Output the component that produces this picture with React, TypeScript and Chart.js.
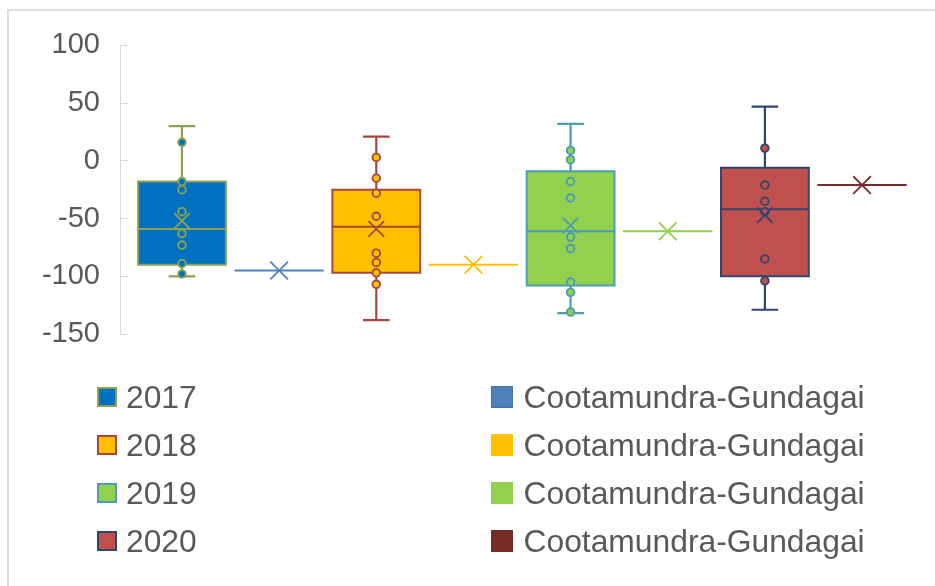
import React, { useEffect, useRef } from 'react';
import { Chart, registerables } from 'chart.js';

Chart.register(...registerables);

// ---------------- data ----------------
const years = ['2017', '2018', '2019', '2020'];
const regionLabel = 'Cootamundra-Gundagai';

const boxMax = [30, 21, 32, 47];
const boxQ3 = [-18, -25, -9, -6];
const boxMedian = [-59, -57, -61, -42];
const boxQ1 = [-90, -97, -108, -100];
const boxMin = [-100, -138, -132, -129];
const boxMean = [-52, -59, -56, -47];

const points2017 = [16, -18, -25, -44, -63, -73, -89, -98];
const points2018 = [3, -15, -28, -48, -80, -88, -97, -107];
const points2019 = [9, 1, -18, -32, -66, -76, -105, -114, -131];
const points2020 = [11, -21, -35, -44, -85, -104];
const yearPoints = [points2017, points2018, points2019, points2020];

const regionValues = [-95, -90, -61, -21];

const yMin = -150;
const yMax = 100;
const yStep = 50;

// ---------------- styles ----------------
const boxFillColors = ['#0070C0', '#FFC000', '#92D050', '#C0504D'];
const boxLineColors = ['#8BA34E', '#A8473F', '#4A9DB4', '#2F4770'];
const regionColors = ['#4F81BD', '#FFC000', '#92D050', '#772C2A'];

const FONT = "'Liberation Sans', Arial, Helvetica, sans-serif";
const TEXT = '#595959';

const BOX_HALF = 0.452;
const CAP_HALF = 0.137;
const X_MIN = -0.638;
const X_MAX = 7.504;

const LEG_TOP = 397;
const LEG_GAP = 48;

export default function App() {
  const ref = useRef<HTMLCanvasElement>(null);

  useEffect(() => {
    const datasets: any[] = [];
    years.forEach((year, i) => {
      const c = 2 * i;
      const l = c - BOX_HALF;
      const r = c + BOX_HALF;
      const fc = boxFillColors[i];
      const lc = boxLineColors[i];
      // box fill
      datasets.push({
        label: year + ' box',
        data: [{ x: l, y: boxQ3[i] }, { x: r, y: boxQ3[i] }],
        fill: { value: boxQ1[i] },
        backgroundColor: fc,
        borderColor: 'rgba(0,0,0,0)',
        borderWidth: 0,
        pointRadius: 0,
        order: 50,
      });
      // box outline
      datasets.push({
        label: year + ' outline',
        data: [
          { x: l, y: boxQ1[i] },
          { x: l, y: boxQ3[i] },
          { x: r, y: boxQ3[i] },
          { x: r, y: boxQ1[i] },
          { x: l, y: boxQ1[i] },
        ],
        fill: false,
        borderColor: lc,
        borderWidth: 2,
        borderCapStyle: 'square',
        borderJoinStyle: 'miter',
        pointRadius: 0,
        order: 40,
      });
      // median
      datasets.push({
        label: year + ' median',
        data: [{ x: l, y: boxMedian[i] }, { x: r, y: boxMedian[i] }],
        fill: false,
        borderColor: lc,
        borderWidth: 2,
        pointRadius: 0,
        order: 30,
      });
      // whiskers + caps
      datasets.push({
        label: year + ' whiskers',
        data: [
          { x: c - CAP_HALF, y: boxMax[i] },
          { x: c + CAP_HALF, y: boxMax[i] },
          { x: c + CAP_HALF + 0.01, y: null },
          { x: c, y: boxMax[i] },
          { x: c, y: boxQ3[i] },
          { x: c, y: null },
          { x: c, y: boxQ1[i] },
          { x: c, y: boxMin[i] },
          { x: c, y: null },
          { x: c - CAP_HALF, y: boxMin[i] },
          { x: c + CAP_HALF, y: boxMin[i] },
        ],
        fill: false,
        spanGaps: false,
        borderColor: lc,
        borderWidth: 2.2,
        pointRadius: 0,
        order: 30,
      });
      // points
      datasets.push({
        label: year + ' points',
        data: yearPoints[i].map((v) => ({ x: c, y: v })),
        showLine: false,
        fill: false,
        pointRadius: 3.8,
        pointBackgroundColor: fc,
        pointBorderColor: lc,
        pointBorderWidth: 1.9,
        order: 20,
      });
      // mean
      datasets.push({
        label: year + ' mean',
        data: [{ x: c, y: boxMean[i] }],
        showLine: false,
        fill: false,
        pointStyle: 'crossRot',
        pointRadius: 11,
        pointBorderColor: lc,
        pointBorderWidth: 1.8,
        order: 10,
      });

      // region series (single value)
      const rc = 2 * i + 1;
      datasets.push({
        label: regionLabel + ' ' + year,
        data: [{ x: rc - 0.46, y: regionValues[i] }, { x: rc + 0.46, y: regionValues[i] }],
        fill: false,
        borderColor: regionColors[i],
        borderWidth: 2,
        pointRadius: 0,
        order: 30,
      });
      datasets.push({
        label: regionLabel + ' mean ' + year,
        data: [{ x: rc, y: regionValues[i] }],
        showLine: false,
        fill: false,
        pointStyle: 'crossRot',
        pointRadius: 12.5,
        pointBorderColor: regionColors[i],
        pointBorderWidth: 1.8,
        order: 10,
      });
    });

    const chart = new Chart(ref.current!, {
      type: 'line',
      data: { datasets },
      options: {
        animation: false,
        responsive: false,
        maintainAspectRatio: false,
        events: [],
        layout: { padding: { left: 0, right: 24, top: 42, bottom: 252 } },
        plugins: {
          legend: { display: false },
          tooltip: { enabled: false },
          title: { display: false },
        },
        scales: {
          x: {
            type: 'linear',
            display: false,
            min: X_MIN,
            max: X_MAX,
          },
          y: {
            type: 'linear',
            min: yMin,
            max: yMax,
            ticks: {
              stepSize: yStep,
              color: TEXT,
              font: { family: FONT, size: 29 },
              padding: 28,
            },
            grid: {
              drawOnChartArea: false,
              drawTicks: true,
              tickLength: -8,
              color: '#d9d9d9',
              lineWidth: 1,
            },
            border: { display: true, color: '#d9d9d9', width: 1 },
            afterFit: (s: any) => {
              s.width = 120;
            },
          },
        },
      } as any,
    });
    return () => chart.destroy();
  }, []);

  const textStyle: React.CSSProperties = {
    fontFamily: FONT,
    fontSize: 31.8,
    lineHeight: '40px',
    color: TEXT,
    whiteSpace: 'nowrap',
  };

  return (
    <div
      style={{
        position: 'fixed',
        left: 0,
        top: 0,
        width: 935,
        height: 586,
        overflow: 'hidden',
        background: '#fff',
      }}
    >
      <div
        style={{
          position: 'absolute',
          left: 7,
          top: 9,
          width: 1000,
          height: 700,
          borderTop: '2px solid #dcdcdc',
          borderLeft: '2px solid #dcdcdc',
        }}
      />
      <canvas
        ref={ref}
        width={935}
        height={586}
        style={{ position: 'absolute', left: 0, top: 0, width: 935, height: 586 }}
      />
      {years.map((y, i) => (
        <div
          key={'l' + y}
          style={{
            position: 'absolute',
            left: 97,
            top: LEG_TOP + i * LEG_GAP - 20,
            height: 40,
            display: 'flex',
            alignItems: 'center',
          }}
        >
          <div
            style={{
              width: 20,
              height: 20,
              boxSizing: 'border-box',
              background: boxFillColors[i],
              border: `2px solid ${boxLineColors[i]}`,
            }}
          />
          <span style={{ ...textStyle, marginLeft: 9 }}>{y}</span>
        </div>
      ))}
      {years.map((y, i) => (
        <div
          key={'r' + y}
          style={{
            position: 'absolute',
            left: 491,
            top: LEG_TOP + i * LEG_GAP - 20,
            height: 40,
            display: 'flex',
            alignItems: 'center',
          }}
        >
          <div
            style={{
              width: 22,
              height: 22,
              boxSizing: 'border-box',
              background: regionColors[i],
              border: i === 0 ? '1px solid #41719C' : 'none',
            }}
          />
          <span style={{ ...textStyle, marginLeft: 10.5 }}>{regionLabel}</span>
        </div>
      ))}
    </div>
  );
}
